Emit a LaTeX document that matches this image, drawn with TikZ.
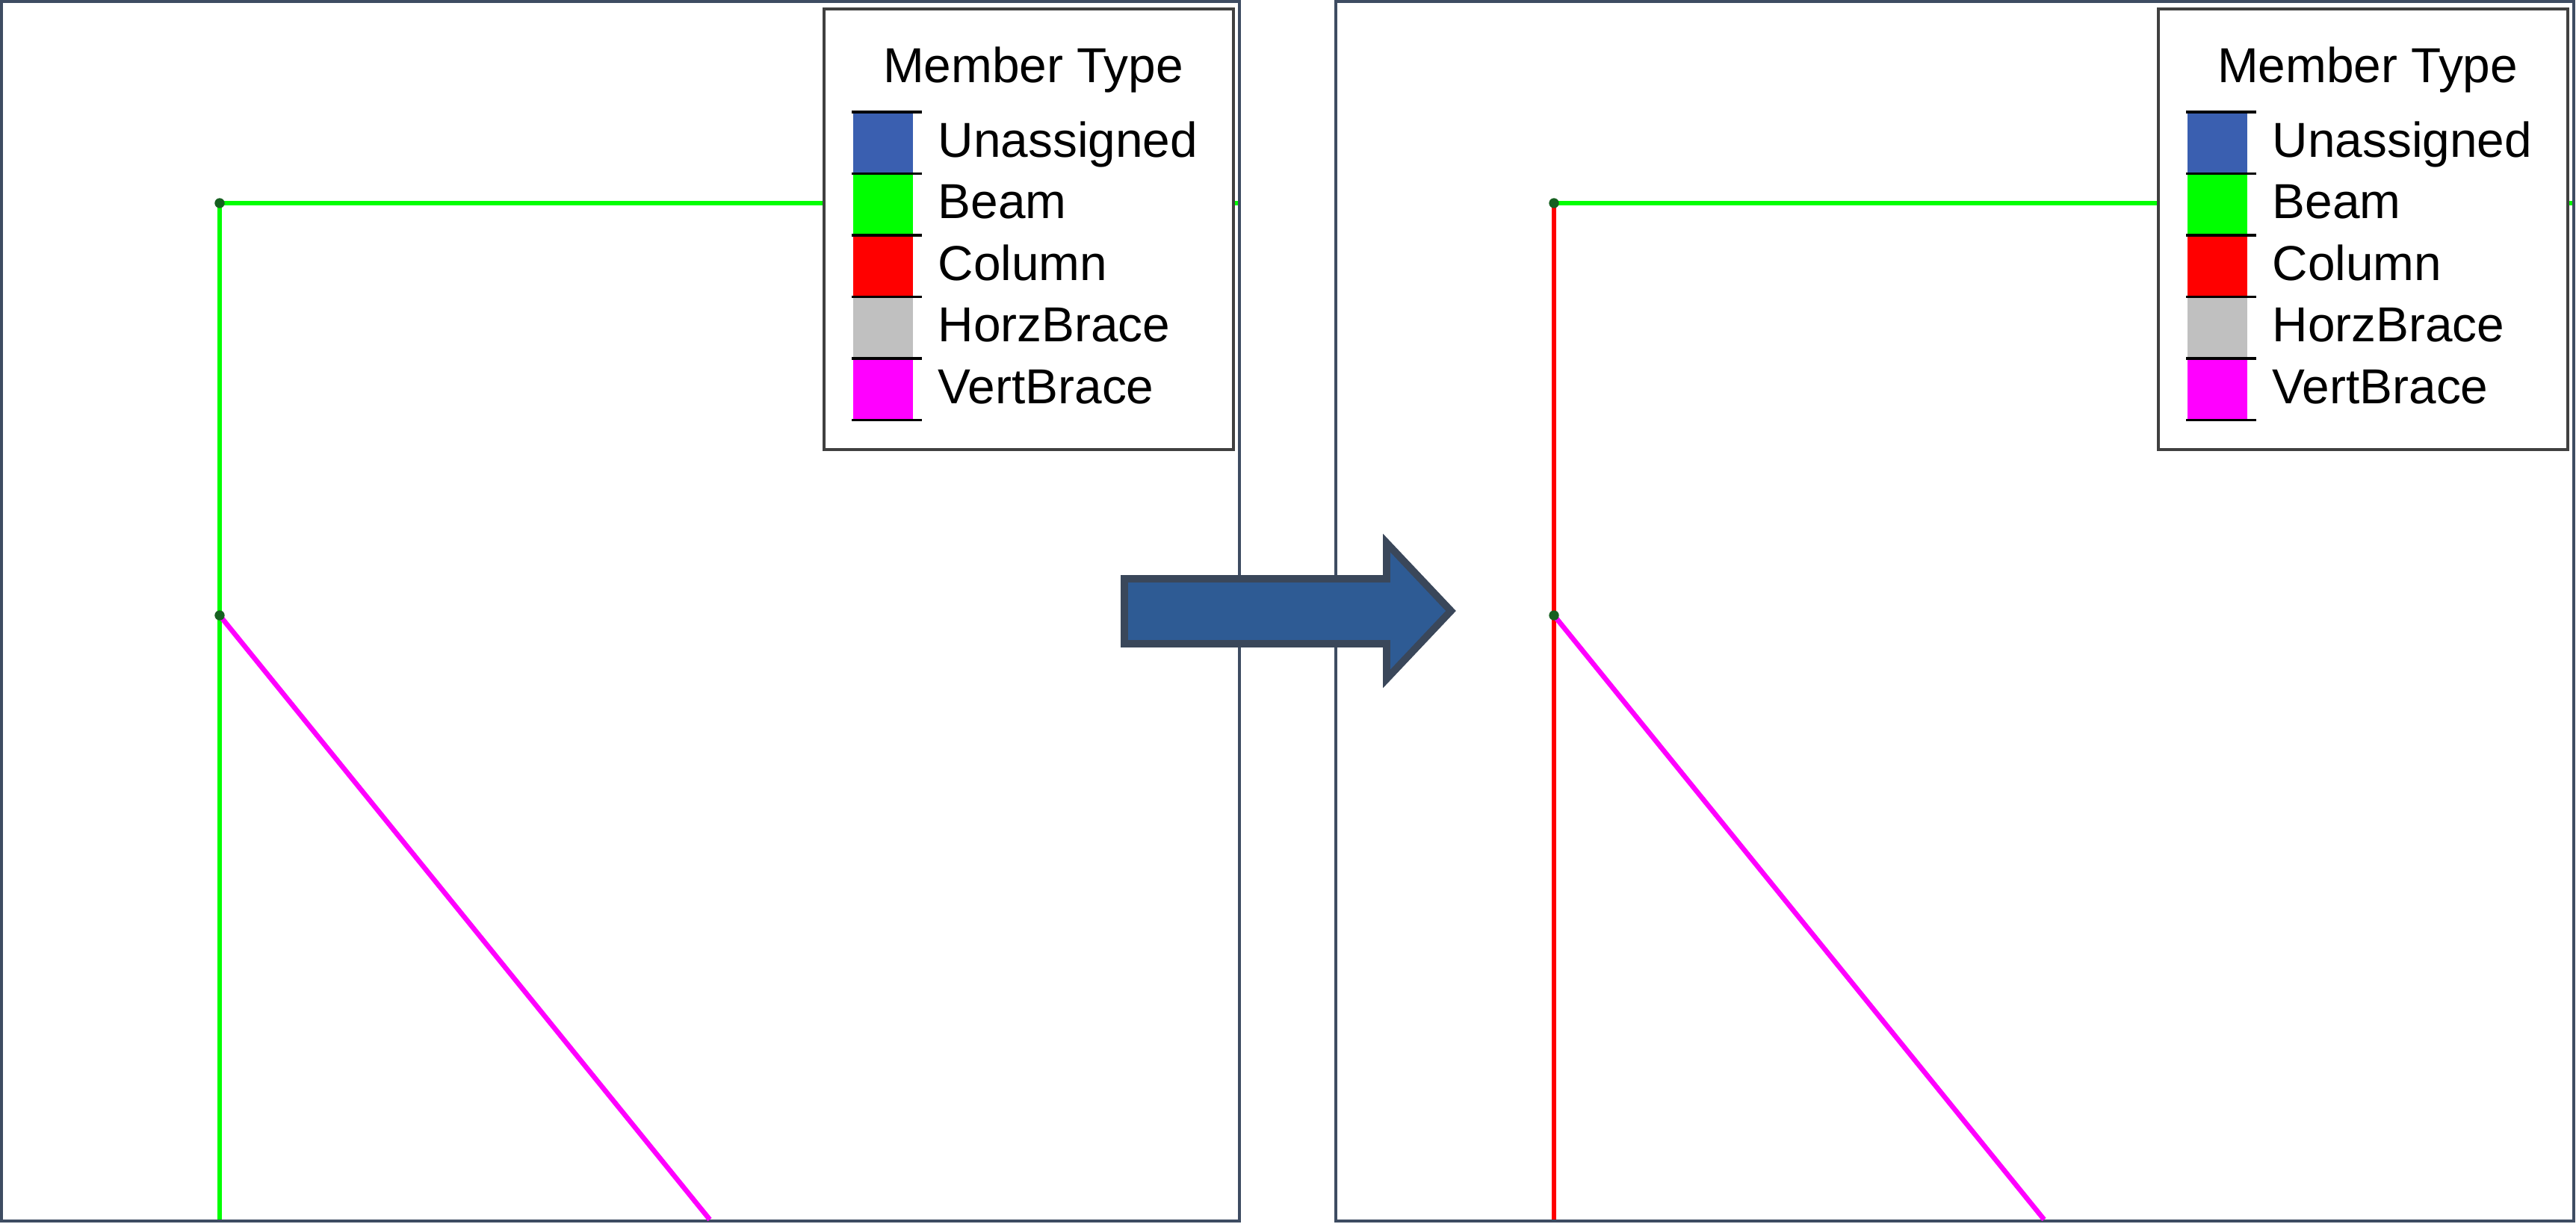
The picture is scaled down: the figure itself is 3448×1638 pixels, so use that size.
\documentclass[tikz,border=0pt]{standalone}
\usepackage{fontspec}
\setmainfont{Liberation Sans}
\usetikzlibrary{calc,positioning,scopes}
\definecolor{framegray}{RGB}{62,76,98}
\definecolor{arrowblue}{RGB}{46,91,148}
\definecolor{arrowedge}{RGB}{58,71,90}
\definecolor{unassigned}{RGB}{58,95,176}
\definecolor{beamgreen}{RGB}{0,255,0}
\definecolor{colred}{RGB}{255,0,0}
\definecolor{horzgray}{RGB}{192,192,192}
\definecolor{vertmagenta}{RGB}{255,0,255}
\definecolor{jointgreen}{RGB}{22,96,32}
% one view: frame, members, joints and legend
\def\drawpanel#1#2{
   \draw[panel] (2,2) rectangle (1659,1635);
   \coordinate (#1-top)  at (294,272);
   \coordinate (#1-mid)  at (294,824);
   \coordinate (#1-base) at (294,1633);
   \coordinate (#1-end)  at (1657,272);
   \coordinate (#1-foot) at (950,1633);
   \draw[member, beamgreen]   (#1-top) -- (#1-end);
   \draw[member, #2]          (#1-top) -- (#1-base);
   \draw[member, vertmagenta] (#1-mid) -- (#1-foot);
   \fill[joint] (#1-top) circle (1.9pt) (#1-mid) circle (1.9pt);
   \draw[legend] (1103,12) rectangle (1651,602);
   \node[lbl, anchor=base] (#1-title) at (1383,110) {Member Type};
   \foreach[count=\n] \name/\col in {Unassigned/unassigned, Beam/beamgreen,
         Column/colred, HorzBrace/horzgray, VertBrace/vertmagenta}
   {  \fill[\col] (1142,67.5+82.5*\n) rectangle (1222,150+82.5*\n);
      \draw[sep] (1140,67.5+82.5*\n) -- (1234,67.5+82.5*\n);
      \node[lbl, anchor=base west] (#1-item-\n) at (1255,127.5+82.5*\n) {\name}; }
   \draw[sep] (1140,562.5) -- (1234,562.5);
 }

\begin{document}
\begin{tikzpicture}[
    x = 0.01cm, y = -0.01cm,
    panel/.style  = {draw=framegray, line width=1pt},
    member/.style = {line width=1.9pt},
    joint/.style  = {fill=jointgreen},
    legend/.style = {draw=black!75, fill=white, line width=1.2pt},
    sep/.style    = {draw=black, line width=0.9pt},
    lbl/.style    = {inner sep=0pt, font=\fontsize{18.7}{22}\selectfont},
    block arrow/.style = {fill=arrowblue, draw=arrowedge, line width=2.8pt}
]
\useasboundingbox (0,0) rectangle (3448,1638);

{ [shift={(0,0)}]    \drawpanel{before}{beamgreen} }
{ [shift={(1786,0)}] \drawpanel{after}{colred} }

% block arrow between the two views
\draw[block arrow] (1505,775) -- (1856,775) -- (1856,727) -- (1942,818)
   -- (1856,909) -- (1856,862) -- (1505,862) -- cycle;

\end{tikzpicture}
\end{document}
